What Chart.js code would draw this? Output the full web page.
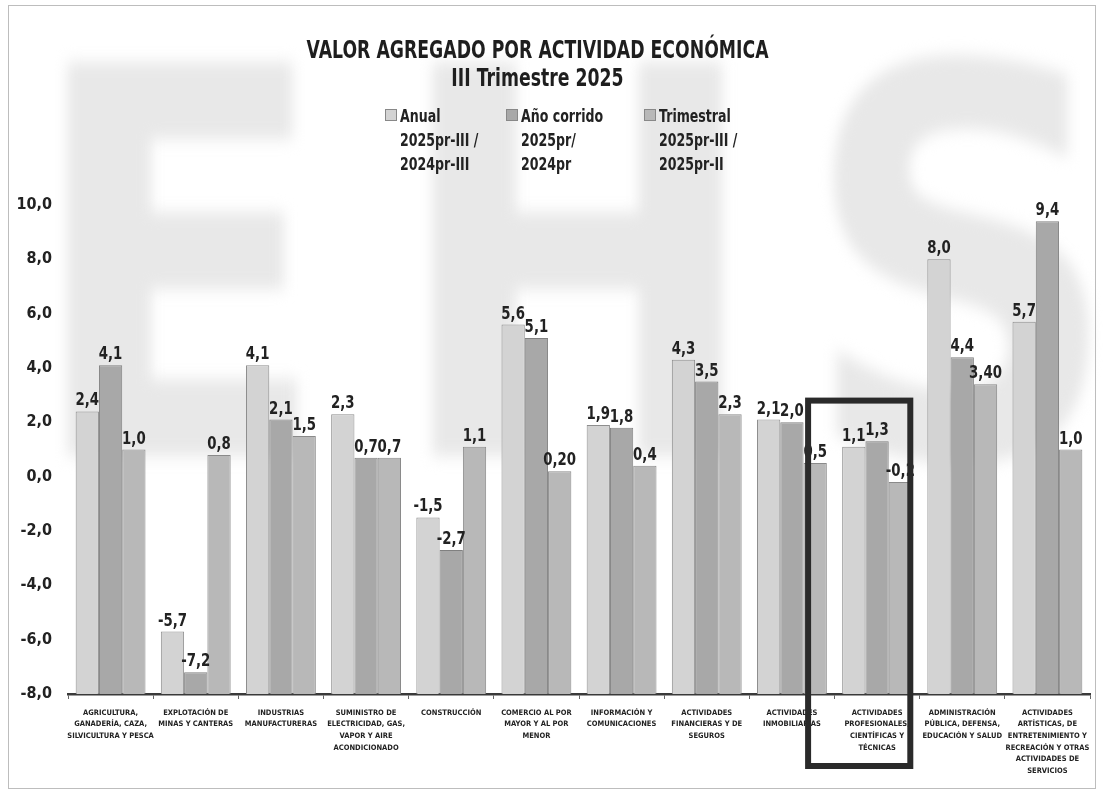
<!DOCTYPE html>
<html>
<head>
<meta charset="utf-8">
<script src="https://cdn.jsdelivr.net/npm/chart.js@4.4.1/dist/chart.umd.min.js"></script>
<style>
  html, body { margin: 0; padding: 0; background: #fff; }
  #wrap { position: relative; width: 1103px; height: 791px; overflow: hidden; background: #fff; }
  .marca { position: absolute; top: -1px; font-family: 'DejaVu Sans'; font-weight: bold;
           font-size: 540px; color: #e8e8e8; filter: blur(8px); line-height: 1;
           transform: scaleX(0.82); transform-origin: left top; white-space: nowrap; }
  #marco { position: absolute; left: 8px; top: 5px; width: 1086px; height: 782px; border: 1px solid #bdbdbd; }
  #titulo { position: absolute; left: 0; width: 1075px; top: 36px; text-align: center;
            font-family: 'DejaVu Sans'; font-weight: bold; color: #1e1e1e; }
  #titulo div { font-size: 24px; line-height: 28px; transform: scaleX(0.72); }
  #leyenda { position: absolute; left: 385px; top: 104px; display: flex;
             font-family: 'DejaVu Sans'; font-weight: bold; color: #222; }
  .item { display: flex; align-items: flex-start; }
  .caja { width: 10px; height: 10px; border: 1px solid #888; margin: 5px 3px 0 0; flex: none; }
  .txt { font-size: 17px; line-height: 24px; transform: scaleX(0.74); transform-origin: left top; white-space: nowrap; }
  canvas { position: absolute; left: 0; top: 0; }
</style>
</head>
<body>
<div id="wrap">
  <div class="marca" style="left:27px">E</div>
  <div class="marca" style="left:392px">H</div>
  <div class="marca" style="left:802px">S</div>
  <div id="marco"></div>
  <div id="titulo">
    <div>VALOR AGREGADO POR ACTIVIDAD ECONÓMICA</div>
    <div>III Trimestre 2025</div>
  </div>
  <div id="leyenda"></div>
  <canvas id="myChart" width="1103" height="791"></canvas>
</div>
<script>
const categorias = [
  ['AGRICULTURA,', 'GANADERÍA, CAZA,', 'SILVICULTURA Y PESCA'],
  ['EXPLOTACIÓN DE', 'MINAS Y CANTERAS'],
  ['INDUSTRIAS', 'MANUFACTURERAS'],
  ['SUMINISTRO DE', 'ELECTRICIDAD, GAS,', 'VAPOR Y AIRE', 'ACONDICIONADO'],
  ['CONSTRUCCIÓN'],
  ['COMERCIO AL POR', 'MAYOR Y AL POR', 'MENOR'],
  ['INFORMACIÓN Y', 'COMUNICACIONES'],
  ['ACTIVIDADES', 'FINANCIERAS Y DE', 'SEGUROS'],
  ['ACTIVIDADES', 'INMOBILIARIAS'],
  ['ACTIVIDADES', 'PROFESIONALES,', 'CIENTÍFICAS Y', 'TÉCNICAS'],
  ['ADMINISTRACIÓN', 'PÚBLICA, DEFENSA,', 'EDUCACIÓN Y SALUD'],
  ['ACTIVIDADES', 'ARTÍSTICAS, DE', 'ENTRETENIMIENTO Y', 'RECREACIÓN Y OTRAS', 'ACTIVIDADES DE', 'SERVICIOS']
];

const nombreAnual = ['Anual', '2025pr-III /', '2024pr-III'];
const nombreCorrido = ['Año corrido', '2025pr/', '2024pr'];
const nombreTrimestral = ['Trimestral', '2025pr-III /', '2025pr-II'];

const anual = [2.4, -5.7, 4.1, 2.3, -1.5, 5.6, 1.9, 4.3, 2.1, 1.1, 8.0, 5.7];
const anoCorrido = [4.1, -7.2, 2.1, 0.7, -2.7, 5.1, 1.8, 3.5, 2.0, 1.3, 4.4, 9.4];
const trimestral = [1.0, 0.8, 1.5, 0.7, 1.1, 0.2, 0.4, 2.3, 0.5, -0.2, 3.4, 1.0];
const etiquetasTrimestral = ['1,0', '0,8', '1,5', '0,7', '1,1', '0,20', '0,4', '2,3', '0,5', '-0,2', '3,40', '1,0'];

const yTicks = [10, 8, 6, 4, 2, 0, -2, -4, -6, -8];
const categoriaResaltada = 9;

const fuente = "'DejaVu Sans', sans-serif";
const fuenteEstrecha = "'DejaVu Sans Condensed', 'DejaVu Sans', sans-serif";
const coma = (v) => v.toFixed(1).replace('.', ',');

// etiquetas encima de cada barra (texto estrechado)
const etiquetas = {
  id: 'etiquetas',
  afterDatasetsDraw(chart) {
    const ctx = chart.ctx;
    chart.data.datasets.forEach((ds, i) => {
      chart.getDatasetMeta(i).data.forEach((bar, j) => {
        const txt = ds.textos ? ds.textos[j] : coma(ds.data[j]);
        ctx.save();
        ctx.translate(bar.x, bar.y - 6);
        ctx.scale(0.74, 1);
        ctx.font = 'bold 18px ' + fuente;
        ctx.fillStyle = '#222';
        ctx.textAlign = 'center';
        ctx.textBaseline = 'alphabetic';
        ctx.fillText(txt, 0, 0);
        ctx.restore();
      });
    });
  }
};

// recuadro negro alrededor de una categoría
const recuadro = {
  id: 'recuadro',
  afterDraw(chart) {
    const x = chart.scales.x, y = chart.scales.y;
    const w = (x.right - x.left) / categorias.length;
    const cx = x.getPixelForValue(categoriaResaltada);
    const ctx = chart.ctx;
    ctx.save();
    ctx.strokeStyle = '#2a2a2a';
    ctx.lineWidth = 6;
    ctx.strokeRect(cx - 0.81 * w, y.getPixelForValue(2.8), 1.2 * w, chart.chartArea.bottom + 72 - y.getPixelForValue(2.8));
    ctx.restore();
  }
};

const chart = new Chart('myChart', {
  type: 'bar',
  data: {
    labels: categorias,
    datasets: [
      { label: nombreAnual, data: anual, backgroundColor: '#d3d3d3', borderColor: '#8e8e8e', borderWidth: 1, base: -8 },
      { label: nombreCorrido, data: anoCorrido, backgroundColor: '#a8a8a8', borderColor: '#808080', borderWidth: 1, base: -8 },
      { label: nombreTrimestral, data: trimestral, textos: etiquetasTrimestral, backgroundColor: '#b8b8b8', borderColor: '#8a8a8a', borderWidth: 1, base: -8 }
    ]
  },
  options: {
    responsive: false,
    animation: false,
    layout: { padding: { top: 205, left: 14, right: 13, bottom: 0 } },
    categoryPercentage: 0.82,
    barPercentage: 1.0,
    plugins: { legend: { display: false }, title: { display: false }, tooltip: { enabled: false } },
    scales: {
      x: {
        grid: { drawOnChartArea: false, drawTicks: true, tickLength: 5, color: '#666' },
        border: { display: true, color: '#3a3a3a', width: 2.5 },
        ticks: { font: { family: fuenteEstrecha, size: 7.5, weight: 'bold', lineHeight: 1.55 }, color: '#222',
                 maxRotation: 0, autoSkip: false, padding: 8 },
        afterFit(scale) { scale.height = 97; }
      },
      y: {
        min: -8, max: 10,
        afterBuildTicks(scale) { scale.ticks = yTicks.map(v => ({ value: v })); },
        grid: { display: false, drawTicks: false },
        border: { display: false },
        ticks: { font: { family: fuenteEstrecha, size: 16, weight: 'bold' }, color: '#222', padding: 16,
                 callback: (v) => coma(v) },
        afterFit(scale) { scale.width = 54; }
      }
    }
  },
  plugins: [etiquetas, recuadro]
});

// leyenda en HTML a partir de los datasets
const ley = document.getElementById('leyenda');
const anchos = [121, 138, 130];
chart.data.datasets.forEach((ds, i) => {
  const it = document.createElement('div');
  it.className = 'item';
  it.style.width = anchos[i] + 'px';
  it.innerHTML = '<div class="caja" style="background:' + ds.backgroundColor + '"></div><div class="txt">' + ds.label.join('<br>') + '</div>';
  ley.appendChild(it);
});
</script>
</body>
</html>
